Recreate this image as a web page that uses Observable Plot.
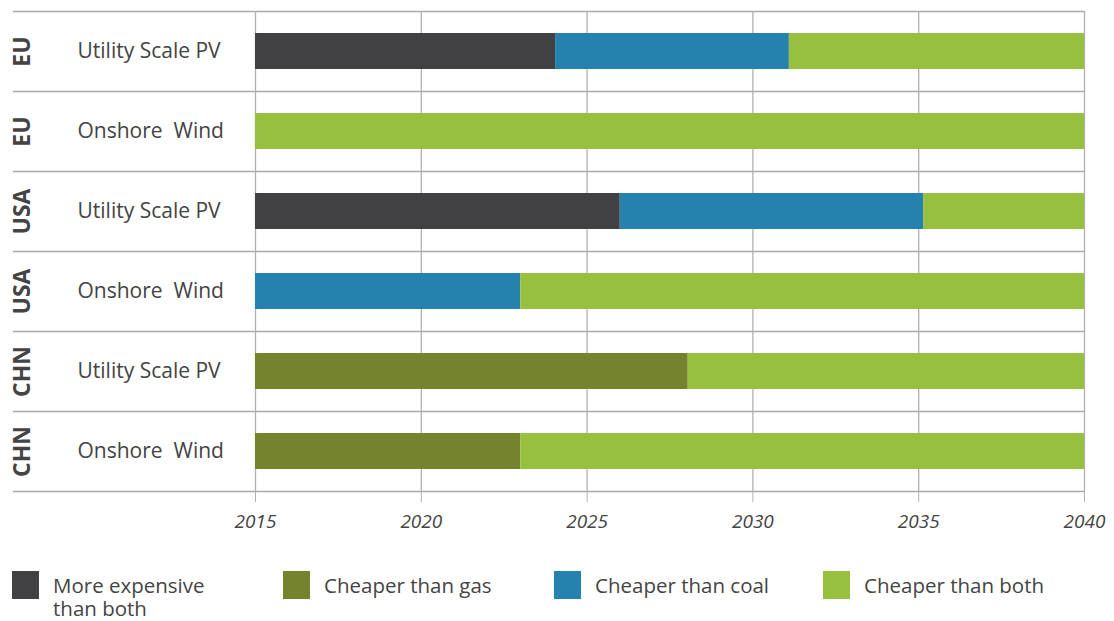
<!DOCTYPE html>
<html>
<head>
<meta charset="utf-8">
<script src="https://cdn.jsdelivr.net/npm/d3@7"></script>
<script src="https://cdn.jsdelivr.net/npm/@observablehq/plot@0.6"></script>
<style>
  html, body { margin: 0; padding: 0; background: #fff; }
  #wrap { position: relative; width: 1114px; height: 621px; font-family: "Open Sans", sans-serif; overflow: hidden; }
  .lg-sw { position: absolute; width: 27px; height: 28px; top: 571px; }
  .lg-tx { position: absolute; font-size: 20.5px; line-height: 20px; height: 20px; color: #444; white-space: nowrap; }
</style>
</head>
<body>
<div id="wrap"></div>
<script>
// ---- data ----
const regions = ["EU", "EU", "USA", "USA", "CHN", "CHN"];
const technologies = ["Utility Scale PV", "Onshore  Wind", "Utility Scale PV", "Onshore  Wind", "Utility Scale PV", "Onshore  Wind"];
const stages = ["More expensive\nthan both", "Cheaper than gas", "Cheaper than coal", "Cheaper than both"];
const stageColors = ["#414042", "#76832e", "#2581ae", "#96c03e"];
// years spent in each stage, per row (starting 2015)
const moreExpensive  = [9.05, 0, 11.0, 0, 0, 0];
const cheaperThanGas = [0, 0, 0, 0, 13.05, 8.0];
const cheaperThanCoal = [7.05, 0, 9.15, 8.0, 0, 0];
const cheaperThanBoth = [8.9, 25, 4.85, 17.0, 11.95, 17.0];
const startYear = 2015;
const tickYears = [2015, 2020, 2025, 2030, 2035, 2040];

// ---- build table ----
const rowKeys = regions.map((r, i) => i);
const series = [moreExpensive, cheaperThanGas, cheaperThanCoal, cheaperThanBoth];
const segments = [];
rowKeys.forEach(i => {
  let x = startYear;
  series.forEach((s, k) => {
    const d = s[i];
    if (d > 0) {
      segments.push({row: i, stage: stages[k], x1: x, x2: x + d});
      x += d;
    }
  });
});
const rows = rowKeys.map(i => ({row: i, region: regions[i], tech: technologies[i]}));

const W = 1114, H = 545;
const chart = Plot.plot({
  width: W,
  height: H,
  marginLeft: 13,
  marginRight: 30,
  marginTop: 11,
  marginBottom: 54,
  style: {fontFamily: "'Open Sans', sans-serif", background: "#fff"},
  x: {domain: [2015, 2040], range: [255, 1084]},
  y: {domain: rowKeys, paddingInner: 0.55, paddingOuter: 0.275, axis: null},
  color: {domain: stages, range: stageColors},
  marks: [
    // row separators (top of each band) and bottom line
    Plot.ruleY(rows, {y: "row", dy: -40, stroke: "#aaaaaa", strokeWidth: 1.3}),
    Plot.ruleY(rows.slice(-1), {y: "row", dy: 40, stroke: "#aaaaaa", strokeWidth: 1.3}),
    // vertical grid
    Plot.ruleX(tickYears, {stroke: "#b0b0b0", strokeWidth: 1.3}),
    Plot.barX(segments, {y: "row", x1: "x1", x2: "x2", fill: "stage"}),
    Plot.axisX({
      ticks: tickYears,
      tickFormat: d => String(d),
      tickSize: 11,
      tickPadding: 12,
      stroke: "#b0b0b0",
      fill: "#444",
      fontSize: 19,
      fontStyle: "italic"
    }),
    Plot.text(rows, {y: "row", text: "tech", frameAnchor: "left", dx: 64, textAnchor: "start",
      fontSize: 21, fill: "#444"}),
    Plot.text(rows, {y: "row", text: "region", frameAnchor: "left", dx: 9, rotate: -90,
      textAnchor: "middle", fontSize: 23, fontWeight: "bold", fill: "#444"})
  ]
});
const wrap = document.getElementById("wrap");
wrap.appendChild(chart);

// legend
const swX = [12, 283, 554, 823];
stages.forEach((s, k) => {
  const sw = document.createElement("div");
  sw.className = "lg-sw";
  sw.style.left = swX[k] + "px";
  sw.style.background = stageColors[k];
  wrap.appendChild(sw);
  s.split("\n").forEach((line, j) => {
    const tx = document.createElement("div");
    tx.className = "lg-tx";
    tx.style.left = (swX[k] + 41) + "px";
    tx.style.top = (575 + j * 23) + "px";
    tx.textContent = line;
    wrap.appendChild(tx);
  });
});
</script>
</body>
</html>
